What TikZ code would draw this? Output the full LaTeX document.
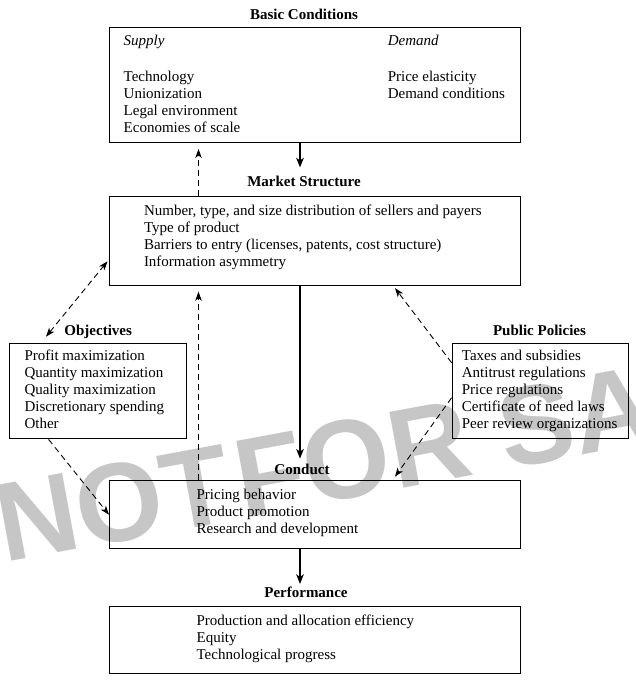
\documentclass[tikz,border=0pt]{standalone}
\usepackage{fontspec}
\setmainfont{Liberation Serif}
\newfontfamily\wmfont{Liberation Sans}
\usetikzlibrary{arrows.meta,calc}
\newcommand\bodyfont{\fontsize{15}{17}\selectfont}
\newcommand\titlefont{\fontsize{15}{17}\selectfont\bfseries}
\begin{document}
\begin{tikzpicture}[x=1pt,y=-1pt,
  box/.style={draw, line width=1.1pt, anchor=north west, inner sep=0pt},
  txt/.style={anchor=north west, inner sep=0pt, align=left, font=\bodyfont},
  ttl/.style={anchor=base, inner sep=0pt, font=\titlefont},
  wmark/.style={anchor=base west, rotate=10.5, inner sep=0pt, text=gray!45,
      font=\wmfont\bfseries\fontsize{112}{112}\selectfont},
  solidarr/.style={line width=1.6pt, -{Stealth[length=9.5pt,width=7.5pt,inset=2.5pt]}},
  dashln/.style={line width=0.9pt, dash pattern=on 6pt off 4pt},
  onetip/.style={-{Stealth[length=9pt,width=6.5pt,inset=2.5pt]}},
  twotip/.style={{Stealth[length=9pt,width=6.5pt,inset=2.5pt]}-{Stealth[length=9pt,width=6.5pt,inset=2.5pt]}},
]
\useasboundingbox (0,0) rectangle (635,683);
% watermark
\node[wmark] (wm1) at (4,563) {NOT};
\node[wmark] (wm2) at (243,518.2) {FOR SALE};
% boxes
\node[box, minimum width=410.5pt, minimum height=115pt] (basic) at (109,27.3) {};
\node[box, minimum width=410.5pt, minimum height=89pt] (market) at (109,195.5) {};
\node[box, minimum width=176.5pt, minimum height=95.6pt] (obj) at (9,342.7) {};
\node[box, minimum width=176pt, minimum height=95.6pt] (pub) at (451.6,342.7) {};
\node[box, minimum width=410.5pt, minimum height=68.3pt] (conduct) at (109,480) {};
\node[box, minimum width=410.5pt, minimum height=67.6pt] (perf) at (109,605.7) {};
% titles
\node[ttl] (tbasic) at (304,19) {Basic Conditions};
\node[ttl] (tmarket) at (304,186) {Market Structure};
\node[ttl] (tobj) at (98.2,335.7) {Objectives};
\node[ttl] (tpub) at (539.5,335.7) {Public Policies};
\node[ttl] (tconduct) at (302,474) {Conduct};
\node[ttl] (tperf) at (306,597.3) {Performance};
% texts
\node[txt] (supply) at (123.5,33.1) {\itshape\strut Supply};
\node[txt] (demand) at (387.6,33.1) {\itshape\strut Demand};
\node[txt] (supplylist) at (123.5,69.1) {\strut Technology\\Unionization\\Legal environment\\Economies of scale};
\node[txt] (demandlist) at (387.6,69.1) {\strut Price elasticity\\Demand conditions};
\node[txt] (marketlist) at (143.8,203.1) {\strut Number, type, and size distribution of sellers and payers\\Type of product\\Barriers to entry (licenses, patents, cost structure)\\Information asymmetry};
\node[txt] (objlist) at (24.3,348.1) {\strut Profit maximization\\Quantity maximization\\Quality maximization\\Discretionary spending\\Other};
\node[txt] (publist) at (461.7,348.1) {\strut Taxes and subsidies\\Antitrust regulations\\Price regulations\\Certificate of need laws\\Peer review organizations};
\node[txt] (conductlist) at (196.4,487.1) {\strut Pricing behavior\\Product promotion\\Research and development};
\node[txt] (perflist) at (196.4,613.1) {\strut Production and allocation efficiency\\Equity\\Technological progress};
% axes
\coordinate (ax) at (300,0);
\coordinate (dx) at (198.5,0);
% connectors
\draw[solidarr] (basic.south -| ax) -- ++(0,24);
\draw[solidarr] (market.south -| ax) -- ++(0,173);
\draw[solidarr] (conduct.south -| ax) -- ++(0,34.5);
\draw[dashln,onetip] (market.north -| dx) -- ++(0,-46.5);
\draw[dashln,onetip] (conduct.north -| dx) -- ++(0,-188.3);
\draw[dashln,twotip] ($(obj.north west)+(37,-6)$) -- ($(market.south west)+(-1.5,-24.3)$);
\draw[dashln,onetip] ($(obj.south west)+(39.6,0)$) -- (conduct.west);
\draw[dashln,onetip] ($(pub.north west)+(0,20)$) -- ($(market.south west)+(286,2.5)$);
\draw[dashln,onetip] ($(pub.south west)+(0,-41.6)$) -- ($(conduct.north west)+(286,-3.3)$);
\end{tikzpicture}
\end{document}
